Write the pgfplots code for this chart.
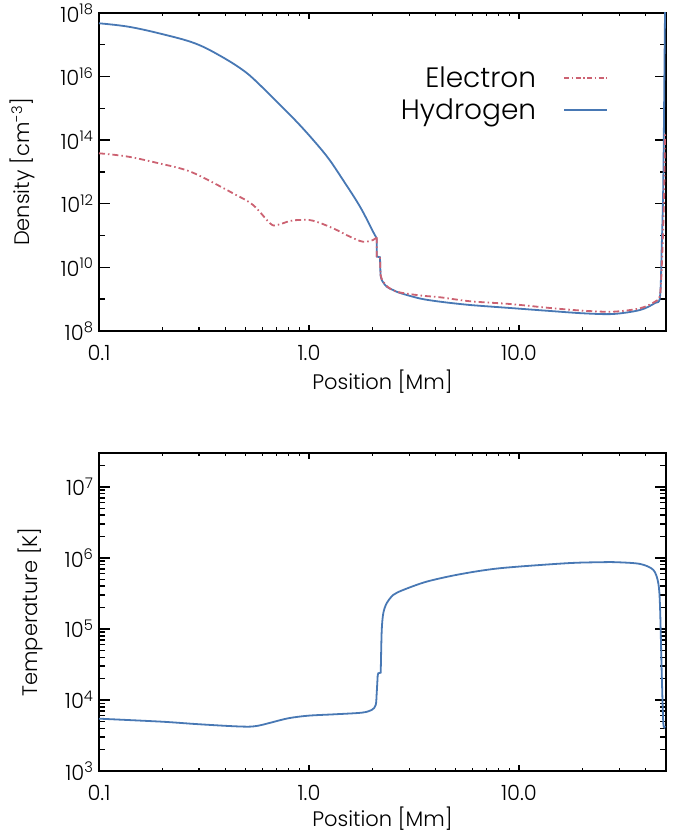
\documentclass[border=0pt]{standalone}
\usepackage{pgfplots}
\pgfplotsset{compat=1.18}
\usepackage{fontspec}
\IfFontExistsTF{Poppins Light}{\setmainfont{Poppins Light}}{\setmainfont{Poppins}}

\definecolor{hblue}{RGB}{72,120,180}
\definecolor{ered}{RGB}{204,98,114}

\pgfplotsset{
  hline/.style={hblue, line width=1.8pt, forget plot},
  eline/.style={ered, line width=1.8pt, forget plot,
    dash pattern=on 6pt off 3pt on 1.5pt off 3pt},
}

\begin{document}
\begin{tikzpicture}
\useasboundingbox (0pt,0pt) rectangle (678pt,833pt);

% number densities
\begin{axis}[
  at={(99pt,502pt)}, anchor=south west,
  scale only axis, width=566.8pt, height=318pt,
  xmode=log, ymode=log, xmin=0.1, xmax=50,
  ymin=1e8, ymax=1e18,
  axis line style={line width=1.8pt},
  tick align=inside,
  tick style={black, line width=1.4pt},
  major tick length=11pt, minor tick length=6pt,
  xtick style={/pgfplots/major tick length=6pt, /pgfplots/minor tick length=3.5pt},
  xtick={0.1,1,10}, xticklabels={0.1,1.0,10.0},
  minor xtick={0.2,0.3,0.4,0.5,0.6,0.7,0.8,0.9,2,3,4,5,6,7,8,9,20,30,40},
  ytick={1e8,1e10,1e12,1e14,1e16,1e18},
  yticklabels={10\textsuperscript{8},10\textsuperscript{10},10\textsuperscript{12},10\textsuperscript{14},10\textsuperscript{16},10\textsuperscript{18}},
  minor ytick={1e9,1e11,1e13,1e15,1e17},
  tick label style={font=\fontsize{21}{25}\selectfont},
  xticklabel style={yshift=-11pt},
  yticklabel style={xshift=-2pt},
  label style={font=\fontsize{21}{25}\selectfont},
  xlabel={Position [Mm]},
  ylabel={Density [cm\textsuperscript{-3}]},
  xlabel style={anchor=center, at={(axis description cs:0.5,-0.159)}},
  ylabel style={anchor=center, at={(axis description cs:-0.135,0.5)}},
  legend plot pos=right,
  legend cell align=right,
  legend image code/.code={\draw[#1] (0pt,0pt) -- (43pt,0pt);},
  legend style={draw=none, fill=none, at={(0.898,0.838)}, anchor=north east,
    inner sep=0pt, outer sep=0pt, font=\fontsize{28}{32}\selectfont,
    row sep=6pt, column sep=25pt},
]
\addlegendimage{ered, line width=1.8pt, dash pattern=on 5pt off 2.5pt on 1.5pt off 2.5pt}
\addlegendentry{Electron}
\addlegendimage{hblue, line width=1.8pt}
\addlegendentry{Hydrogen}

% hydrogen: photosphere/chromosphere, transition-region steps, corona
\addplot[hline, smooth, tension=0.6] coordinates {
  (0.1,4.74e17) (0.1379,3.71e17) (0.1988,2.19e17) (0.2865,1.11e17)
  (0.3840,4.23e16) (0.4957,1.43e16) (0.5954,4.81e15) (0.7142,1.45e15)
  (0.8577,4.32e14) (1.030,1.15e14) (1.236,2.70e13) (1.452,5.60e12)
  (1.750,8.11e11) (2.018,1.33e11) (2.101,8.22e10)
};
\addplot[hline] coordinates {
  (2.101,8.22e10) (2.104,2.20e10) (2.178,2.08e10) (2.19,6.0e9)
};
\addplot[hline, smooth, tension=0.5] coordinates {
  (2.19,6.0e9) (2.22,4.0e9) (2.344,2.47e9)
  (2.512,1.95e9) (2.713,1.57e9) (3.378,1.05e9) (4.206,8.35e8)
  (5.843,6.57e8) (9.061,5.29e8) (14.05,4.26e8) (20.18,3.60e8)
  (28.03,3.42e8) (37.69,4.57e8) (44.42,7.60e8) (46.93,1.20e9)
  (47.82,4.48e10) (48.66,5.60e12) (49.57,1e18) (50,1e19)
};

% electrons
\addplot[eline, smooth, tension=0.6] coordinates {
  (0.1,3.87e13) (0.1379,3.03e13) (0.1988,1.79e13) (0.2520,1.22e13)
  (0.3029,7.48e12) (0.4345,2.14e12) (0.5412,9.17e11) (0.6521,2.44e11)
  (0.7040,2.15e11) (0.8118,2.88e11) (0.9061,3.10e11) (1.045,2.94e11)
  (1.301,1.70e11) (1.567,9.23e10) (1.807,6.43e10) (2.018,7.28e10)
  (2.101,8.85e10)
};
\addplot[eline] coordinates {
  (2.101,8.85e10) (2.104,2.20e10) (2.178,2.08e10) (2.19,6.2e9)
};
\addplot[eline, smooth, tension=0.5] coordinates {
  (2.19,6.2e9) (2.22,4.32e9) (2.344,2.6e9) (2.616,1.72e9) (3.378,1.31e9)
  (4.206,1.15e9) (5.843,8.6e8) (9.061,7.06e8) (14.05,5.29e8)
  (20.18,4.35e8) (28.03,4.04e8) (37.69,5.17e8) (44.42,8.35e8)
  (46.93,1.36e9) (47.97,1.71e10) (49.03,1.32e12) (49.57,1.81e14)
};
\end{axis}

% temperature
\begin{axis}[
  at={(99pt,62pt)}, anchor=south west,
  scale only axis, width=566.8pt, height=318pt,
  xmode=log, ymode=log, xmin=0.1, xmax=50,
  ymin=1e3, ymax=3e7,
  axis line style={line width=1.8pt},
  tick align=inside,
  tick style={black, line width=1.4pt},
  major tick length=11pt, minor tick length=6pt,
  xtick style={/pgfplots/major tick length=6pt, /pgfplots/minor tick length=3.5pt},
  xtick={0.1,1,10}, xticklabels={0.1,1.0,10.0},
  minor xtick={0.2,0.3,0.4,0.5,0.6,0.7,0.8,0.9,2,3,4,5,6,7,8,9,20,30,40},
  ytick={1e3,1e4,1e5,1e6,1e7},
  yticklabels={10\textsuperscript{3},10\textsuperscript{4},10\textsuperscript{5},10\textsuperscript{6},10\textsuperscript{7}},
  minor ytick={2e3,3e3,4e3,5e3,6e3,7e3,8e3,9e3,2e4,3e4,4e4,5e4,6e4,7e4,8e4,9e4,
    2e5,3e5,4e5,5e5,6e5,7e5,8e5,9e5,2e6,3e6,4e6,5e6,6e6,7e6,8e6,9e6,2e7,3e7},
  tick label style={font=\fontsize{21}{25}\selectfont},
  xticklabel style={yshift=-11pt},
  yticklabel style={xshift=-2pt},
  label style={font=\fontsize{21}{25}\selectfont},
  xlabel={Position [Mm]},
  ylabel={Temperature [K]},
  xlabel style={anchor=center, at={(axis description cs:0.5,-0.151)}},
  ylabel style={anchor=center, at={(axis description cs:-0.1217,0.5)}},
]
\addplot[hline, smooth, tension=0.5] coordinates {
  (0.1,5454) (0.1988,4948) (0.2865,4591) (0.4128,4304) (0.5141,4207)
  (0.5738,4345) (0.6403,4697) (0.7969,5525) (0.9924,6010) (1.330,6289)
  (1.782,6624) (1.989,7230) (2.078,8505) (2.101,12550) (2.124,22490)
};
\addplot[hline] coordinates {
  (2.124,22490) (2.139,23770) (2.195,24250) (2.202,36600)
};
\addplot[hline, smooth, tension=0.5] coordinates {
  (2.202,36600) (2.220,96800) (2.258,166400)
  (2.344,230100) (2.520,301300) (2.812,354200) (3.635,463700) (5.236,589300)
  (8.121,716000) (16.87,841700) (24.30,869600) (29.19,869600) (37.69,822900)
  (43.61,677600) (46.06,440300) (46.93,206100) (47.82,23770) (48.66,4697)
  (49.57,4304)
};
\end{axis}
\end{tikzpicture}
\end{document}
